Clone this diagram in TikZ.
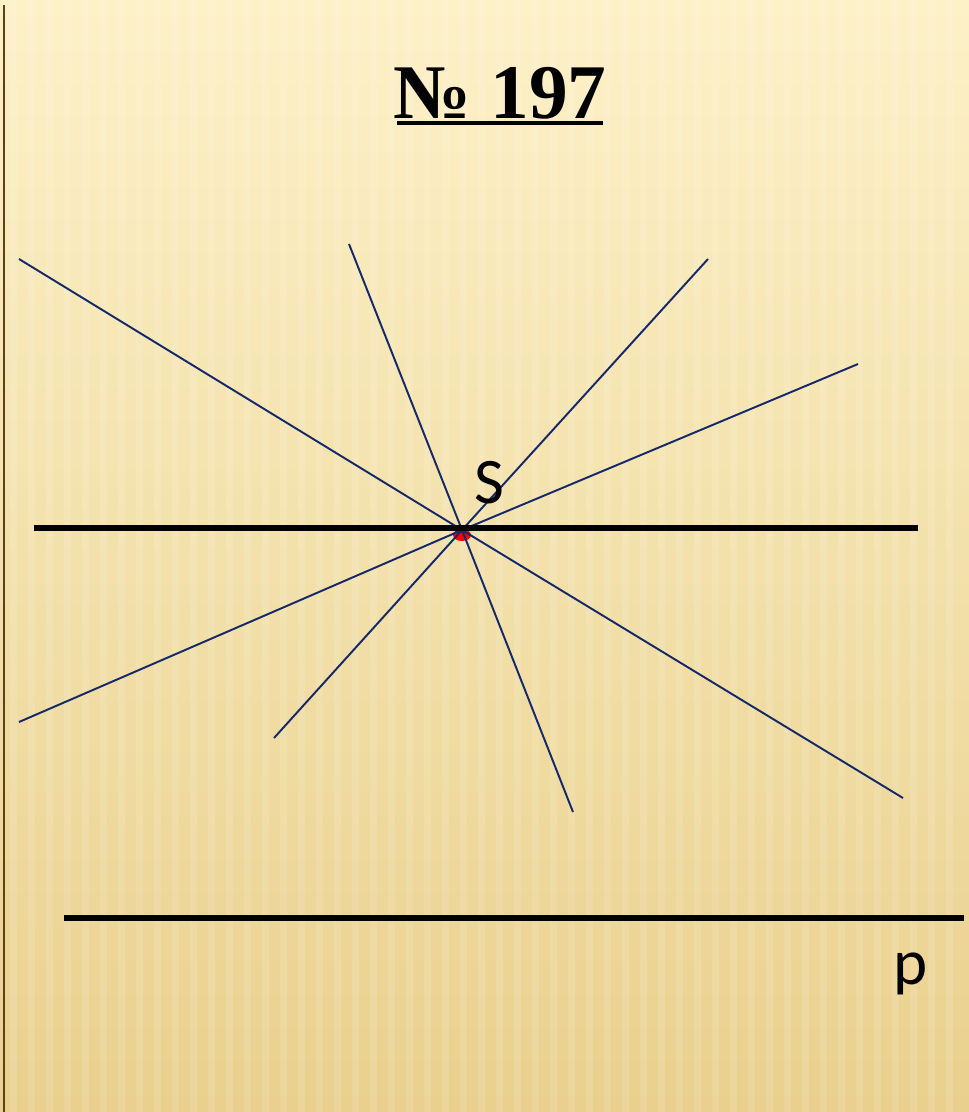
\documentclass[tikz,border=0pt]{standalone}
\usepackage{fontspec}
\setmainfont{Liberation Serif}
\newfontfamily\labelfont{Carlito}
\usepackage{tikz}
\definecolor{raycol}{HTML}{14286A}
\definecolor{bgtop}{HTML}{FDF1C8}
\definecolor{bgbot}{HTML}{E9D08E}
\definecolor{edgecol}{HTML}{5E3F18}

\begin{document}
\begin{tikzpicture}[x=0.02cm, y=-0.02cm,
  ray/.style={raycol, line width=1.1pt},
  bold line/.style={black, line width=3pt},
  lbl/.style={font=\labelfont\fontsize{37}{40}\selectfont, inner sep=0pt}]
  % background
  \shade[top color=bgtop, bottom color=bgbot, shading angle=0] (0,0) rectangle (969,1112);
  \useasboundingbox (0,0) rectangle (969,1112);
  \foreach \x in {10,28,...,960} \fill[white, opacity=0.12] (\x,0) rectangle (\x+7,1112);
  \draw[edgecol, line width=1.5pt] (4,5) -- (4,1112);
  % title
  \node[font=\bfseries\fontsize{44}{48}\selectfont, inner sep=0pt, anchor=base] (title) at (500,118) {№ 197};
  \draw[black, line width=2.4pt] (397,123) -- (603,123);
  % point S and rays
  \coordinate (S) at (462,530);
  \fill[red] (S) ++(0,5) ellipse (9 and 6);
  \coordinate (a1) at (19,259);  \coordinate (a2) at (903,798);
  \coordinate (b1) at (349,244); \coordinate (b2) at (573,812);
  \coordinate (c1) at (708,259); \coordinate (c2) at (274,738);
  \coordinate (d1) at (858,364); \coordinate (d2) at (19,722);
  \foreach \u in {a,b,c,d} \draw[ray] (\u1) -- (S) -- (\u2);
  \coordinate (h1) at (34,528);  \coordinate (h2) at (918,528);
  \draw[bold line] (h1) -- (h2);
  \node[lbl] (Slbl) at (489,483) {S};
  % line p
  \coordinate (p1) at (64,918); \coordinate (p2) at (964,918);
  \draw[bold line] (p1) -- (p2);
  \node[lbl] (plbl) at (911,974) {p};
\end{tikzpicture}
\end{document}
